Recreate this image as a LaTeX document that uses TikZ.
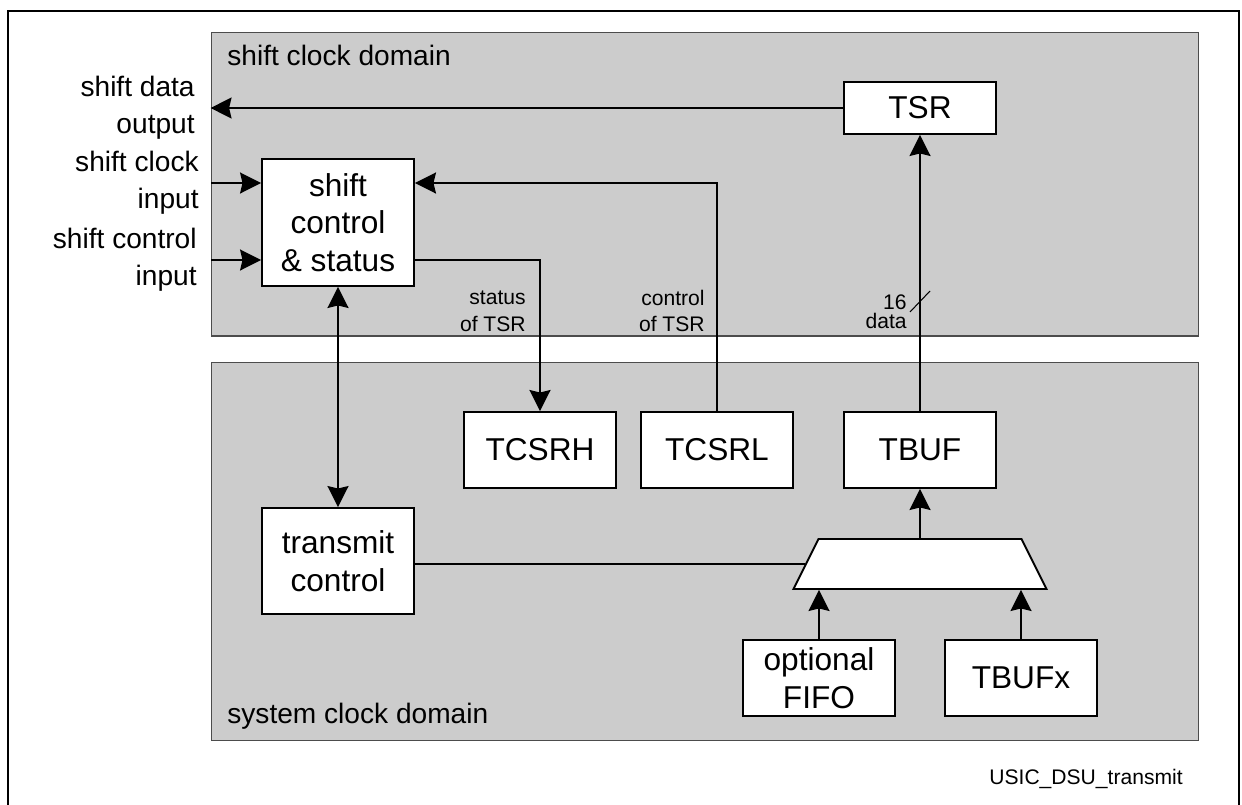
\documentclass[tikz,border=0pt]{standalone}
\usepackage{fontspec}
\setmainfont{Liberation Sans}
\usetikzlibrary{arrows.meta,positioning,shapes.geometric}
\definecolor{domgray}{RGB}{204,204,204}
\newcommand{\boxfont}{\fontsize{18}{21.5}\selectfont}
\newcommand{\portfont}{\fontsize{16}{21}\selectfont}
\newcommand{\tagfont}{\fontsize{12}{15.3}\selectfont}

\begin{document}
\begin{tikzpicture}[
    x=0.02cm, y=-0.02cm,
    dom/.style={draw=black!70, fill=domgray, line width=0.6pt, inner sep=0pt,
      minimum width=19.76cm, minimum height=#1},
    blk/.style={draw, fill=white, line width=1.1pt, inner sep=0pt,
      minimum width=3.04cm, minimum height=#1, align=center, font=\boxfont},
    blk/.default=1.52cm,
    mux/.style={trapezium, trapezium angle=63.4, draw, fill=white,
      line width=1.1pt, inner xsep=2.03cm, inner ysep=0.5cm},
    arrow/.style={-{Stealth[length=0.42cm, width=0.42cm, inset=0.05cm]}, line width=1.1pt},
    twoway/.style={{Stealth[length=0.42cm, width=0.42cm, inset=0.05cm]}-{Stealth[length=0.42cm, width=0.42cm, inset=0.05cm]}, line width=1.1pt},
    wire/.style={line width=1.1pt},
    port/.style={font=\portfont, align=right, inner sep=0pt},
    tag/.style={font=\tagfont, align=right, inner sep=0pt}
  ]
    \useasboundingbox (0,0) rectangle (1242,805);
    \draw[line width=1.1pt] (8,805) -- (8,11) -- (1239,11) -- (1239,805);

    % Clock domains
    \node[dom=6.08cm] (sdom) at (705,184) {};
    \node[dom=7.58cm] (ydom) at (705,551.5) {};
    \node[font=\portfont, anchor=base west, inner sep=0pt] (sdomtxt) at (227,65) {shift clock domain};
    \node[font=\portfont, anchor=base west, inner sep=0pt] (ydomtxt) at (227,723) {system clock domain};

    % Shift clock domain blocks
    \node[blk=1.04cm] (tsr) at (920,108) {TSR};
    \node[blk=2.54cm] (sctl) at (338,222.5) {shift\\control\\\& status};

    % System clock domain blocks
    \node[blk] (tcsrh) at (540,450) {TCSRH};
    \node[blk] (tcsrl) at (717,450) {TCSRL};
    \node[blk] (tbuf) at (920,450) {TBUF};
    \node[blk=2.12cm] (tctrl) at (338,561) {transmit\\control};
    \node[mux] (mux) at (920,564) {};
    \node[blk] (fifo) at (819,678) {optional\\FIFO};
    \node[blk] (tbufx) at (1021,678) {TBUFx};

    % Ports
    \coordinate (clkin) at (211,183);
    \coordinate (ctlin) at (211,260);
    \node[port, anchor=east] (outtxt) at (195,108) {shift data\\output};
    \node[port, anchor=east] (clktxt) at (199,183) {shift clock\\input};
    \node[port, anchor=east] (ctltxt) at (197,260) {shift control\\input};

    % Arrows
    \draw[arrow] (tsr.west) -- (tsr.west -| sdom.west);
    \draw[arrow] (clkin) -- (clkin -| sctl.west);
    \draw[arrow] (ctlin) -- (ctlin -| sctl.west);
    \draw[arrow] (ctlin -| sctl.east) -| (tcsrh.north);
    \draw[arrow] (tcsrl.north) |- (clkin -| sctl.east);
    \draw[twoway] (sctl.south) -- (tctrl.north);
    \draw[arrow] (tbuf.north) -- (tsr.south);
    \draw[arrow] (mux.north) -- (tbuf.south);
    \draw[arrow] (fifo.north) -- (fifo.north |- mux.south);
    \draw[arrow] (tbufx.north) -- (tbufx.north |- mux.south);
    \draw[wire] (mux.west -| tctrl.east) -- (mux.west);
    \draw[line width=0.6pt] (tbuf.north |- 0,301) ++(-10,11) -- ++(20,-21);

    % Labels
    \node[tag, anchor=east] (sttxt) at (526,311) {status\\of TSR};
    \node[tag, anchor=east] (cttxt) at (705,311) {control\\of TSR};
    \node[tag, anchor=east, font=\fontsize{12}{11}\selectfont] (bustxt) at (907,312) {16\\data};
    \node[font=\tagfont, anchor=base west, inner sep=0pt] (figname) at (989,784) {USIC\_DSU\_transmit};
  \end{tikzpicture}
\end{document}
